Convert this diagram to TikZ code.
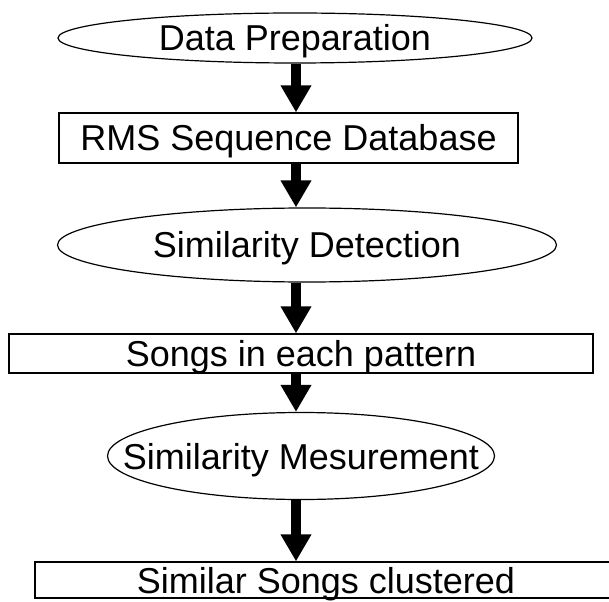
\documentclass[tikz,border=0pt]{standalone}
\usepackage{fontspec}
\setmainfont{Liberation Sans}
\usetikzlibrary{shapes, arrows.meta}
\tikzstyle{oval} = [ellipse, draw, line width=1.2pt, inner xsep=-60pt, inner ysep=0pt]
\tikzstyle{block} = [rectangle, draw, line width=1.2pt, inner sep=0pt]
\tikzstyle{line} = [draw, line width=10pt, -{Triangle[width=29pt, length=27pt]}]

\begin{document}
\begin{tikzpicture}[x=1pt, y=1pt]
\tikzstyle{every node}=[font=\fontsize{36}{40}\selectfont, text height=26pt, text depth=0pt]
\useasboundingbox (0,0) rectangle (609,-601);
\clip (0,0) rectangle (609,-601);
\coordinate (axis) at (296,0);
\node[oval, minimum width=474pt, minimum height=50pt] (prep) at (295,-38) {Data Preparation};
\node[block, below of=prep, node distance=100pt, xshift=-6.5pt, minimum width=459pt, minimum height=50pt] (rms) {RMS Sequence Database};
\node[oval, below of=rms, node distance=107pt, xshift=18.5pt, minimum width=499pt, minimum height=74pt] (detect) {Similarity Detection};
\node[block, below of=detect, node distance=108.5pt, xshift=-6pt, minimum width=584pt, minimum height=39pt] (songs) {Songs in each pattern};
\node[oval, below of=songs, node distance=102.5pt, minimum width=387pt, minimum height=87pt] (measure) {Similarity Mesurement};
\node[block, below of=measure, node distance=124pt, xshift=25pt, minimum width=582pt, minimum height=36pt] (clusters) {Similar Songs clustered};
\path [line] (prep.south -| axis) -- (rms.north -| axis);
\path [line] (rms.south -| axis) -- (detect.north -| axis);
\path [line] (detect.south -| axis) -- (songs.north -| axis);
\path [line] (songs.south -| axis) -- (measure.north -| axis);
\path [line] (measure.south -| axis) -- (clusters.north -| axis);
\end{tikzpicture}
\end{document}
